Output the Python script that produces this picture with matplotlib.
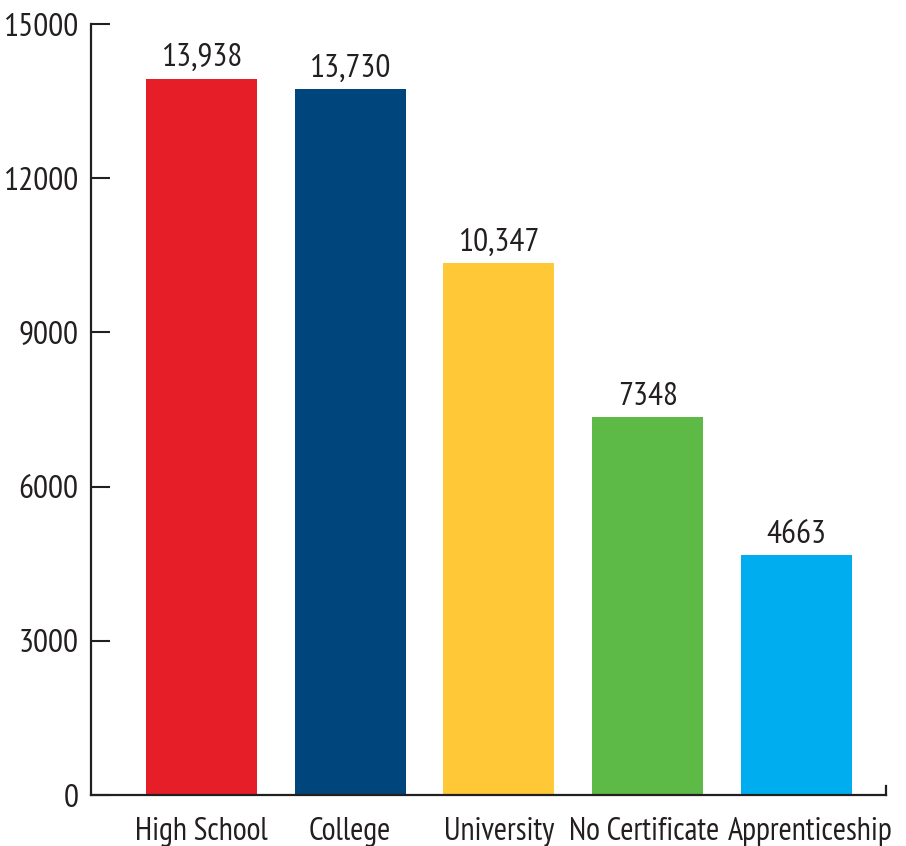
import matplotlib
matplotlib.use("Agg")
import matplotlib.pyplot as plt
from matplotlib import font_manager
from matplotlib.transforms import ScaledTranslation

categories = ["High School", "College", "University", "No Certificate", "Apprenticeship"]
values = [13938, 13730, 10347, 7348, 4663]
value_labels = ["13,938", "13,730", "10,347", "7348", "4663"]
colors = ["#E61E27", "#00457C", "#FFC836", "#5DBA47", "#00AEEF"]
yticks = [0, 3000, 6000, 9000, 12000, 15000]

names = {f.name for f in font_manager.fontManager.ttflist}
prefs = ["Myriad Pro Cond", "Myriad Pro Condensed", "PT Sans Narrow", "Fira Sans Condensed",
         "Open Sans Condensed", "Roboto Condensed", "Archivo Narrow", "Encode Sans Condensed",
         "Barlow Semi Condensed", "Asap Condensed", "DejaVu Sans"]
fam = next(p for p in prefs if p in names)
plt.rcParams["font.family"] = [fam, "DejaVu Sans"]

fig = plt.figure(figsize=(9.06, 8.46), dpi=100)
ax = fig.add_axes([91/906, 51/846, 795/906, 771/846])

x = list(range(len(categories)))
ax.bar(x, values, width=0.745, color=colors, zorder=2)
for xi, v, lab in zip(x, values, value_labels):
    ax.annotate(lab, (xi, v), xytext=(0, 4), textcoords="offset points",
                ha="center", va="bottom", fontsize=24, color="#231F20")

ax.set_xlim(-0.74, 4.6)
ax.set_ylim(0, 15000)
ax.set_yticks(yticks)
ax.set_yticklabels([str(t) for t in yticks])
ax.set_xticks(x)
ax.set_xticklabels(categories)
ax.tick_params(axis="y", direction="in", length=14, width=1.5, color="#231F20",
               labelsize=24, labelcolor="#231F20", pad=9)
ax.tick_params(axis="x", length=0, labelsize=23, labelcolor="#231F20", pad=16)
shifts = [0, 0, 0, -4, 14]
for lab, dx in zip(ax.get_xticklabels(), shifts):
    lab.set_transform(lab.get_transform() + ScaledTranslation(dx / 100, 0, fig.dpi_scale_trans))
for s in ["top", "right"]:
    ax.spines[s].set_visible(False)
for s in ["left", "bottom"]:
    ax.spines[s].set_color("#231F20")
    ax.spines[s].set_linewidth(1.6)
ax.plot([1, 1], [0, 0.012], transform=ax.transAxes, color="#231F20", lw=1.6, clip_on=False)

fig.savefig("out.png", dpi=100)
